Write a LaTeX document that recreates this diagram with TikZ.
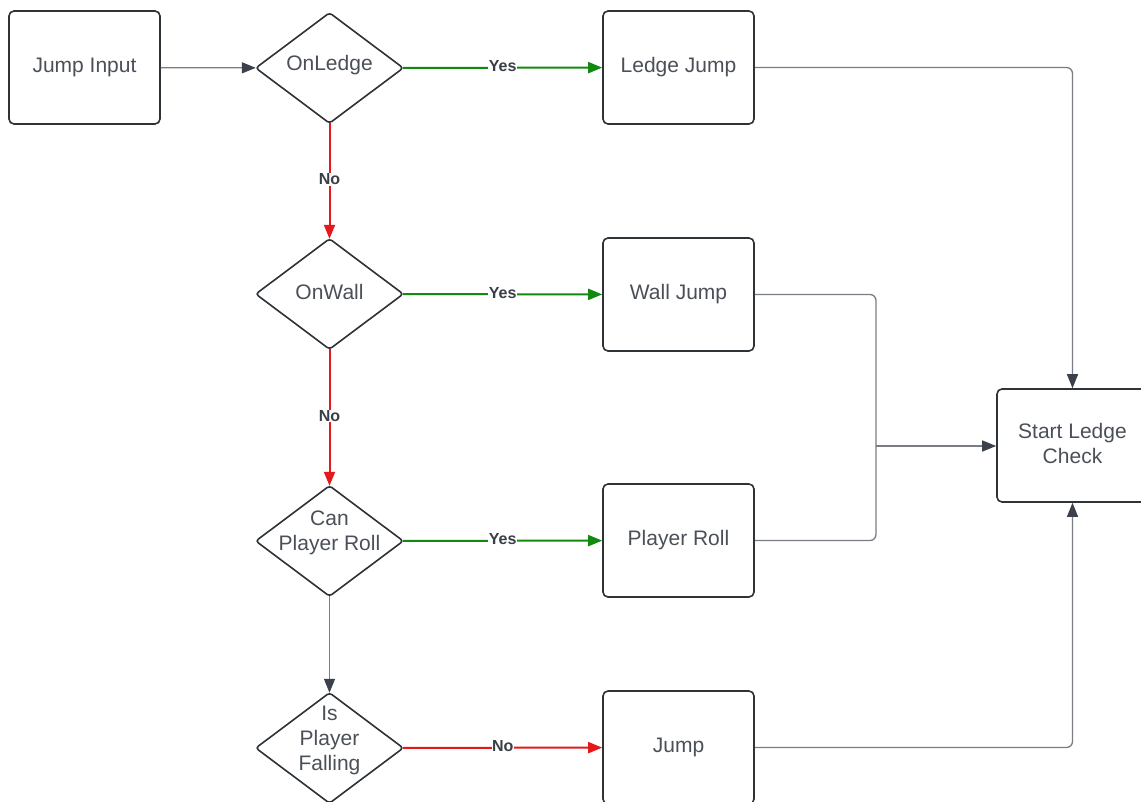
\documentclass[tikz,border=0pt]{standalone}
\usepackage{fontspec}
\setmainfont{Liberation Sans}
\usetikzlibrary{arrows.meta}
\definecolor{edgeline}{HTML}{7A7E84}
\definecolor{tipcol}{HTML}{3A414A}
\definecolor{boxline}{HTML}{2E3338}
\definecolor{txt}{HTML}{4B5058}
\definecolor{yescol}{HTML}{12890F}
\definecolor{nocol}{HTML}{E5191B}
\definecolor{lbl}{HTML}{3A3F45}
\tikzset{
  procbox/.style={draw=boxline, line width=1.6pt, rounded corners=5pt, minimum width=151pt, minimum height=113pt, inner sep=0pt, text=txt, font=\fontsize{21}{25}\selectfont, align=center},
  % decision area: an exact-size frame, the diamond itself is drawn through its anchors
  decision/.style={minimum width=147pt, minimum height=110pt, inner sep=0pt},
  decisiontext/.style={text=txt, font=\fontsize{21}{25}\selectfont, align=center, inner sep=0pt},
  boxtext/.style={decisiontext},
  diamondline/.style={draw=boxline, line width=1.6pt, rounded corners=3pt},
  tip/.style={-{Triangle[length=14pt,width=11pt]}},
  flow/.style={draw=edgeline, line width=1.3pt, -{Triangle[length=14pt,width=11pt,fill=tipcol,color=tipcol]}},
  yesflow/.style={draw=yescol, line width=2pt, tip},
  noflow/.style={draw=nocol, line width=2pt, tip},
  edgelabel/.style={fill=white, inner sep=0.5pt, yshift=1.5pt, text=lbl, font=\bfseries\fontsize{16}{18}\selectfont},
}
\begin{document}
\begin{tikzpicture}[x=1pt, y=-1pt]
  \useasboundingbox (0,0) rectangle (1141,801);
  \fill[white] (0,0) rectangle (1141,801);

  % process steps
  \node[procbox] (input)  at (84.5,67.5)  {Jump Input};
  \node[procbox] (ledgej) at (678.5,67.5) {Ledge Jump};
  \node[procbox] (wallj)  at (678.5,294.5) {Wall Jump};
  \node[procbox] (roll)   at (678.5,540.5) {Player Roll};
  \node[procbox] (jump)   at (678.5,747.5) {Jump};
  \node[procbox] (check)  at (1072.5,445.5) {};
  \node[boxtext] (check-t) at (1072.5,443) {Start Ledge\\Check};

  % decisions
  \node[decision] (onledge) at (329.5,68)  {};
  \node[decision] (onwall)  at (329.5,294) {};
  \node[decision] (canroll) at (329.5,541) {};
  \node[decision] (falling) at (329.5,748) {};
  \foreach \d in {onledge,onwall,canroll,falling}
    \draw[diamondline] (\d.north) -- (\d.east) -- (\d.south) -- (\d.west) -- cycle;
  \node[decisiontext] (onledge-t) at (329.5,65)  {OnLedge};
  \node[decisiontext] (onwall-t)  at (329.5,292) {OnWall};
  \node[decisiontext] (canroll-t) at (329.5,532.5) {Can\\Player Roll};
  \node[decisiontext] (falling-t) at (329.5,740.5) {Is\\Player\\Falling};

  % junction of the wall-jump and roll branches
  \coordinate (merge) at (876,446);

  % main flow
  \draw[flow] (input) -- (onledge);
  \draw[yesflow] (onledge) -- node[edgelabel] {Yes} (ledgej);
  \draw[noflow] (onledge) -- node[edgelabel] {No} (onwall);
  \draw[yesflow] (onwall) -- node[edgelabel] {Yes} (wallj);
  \draw[noflow] (onwall) -- node[edgelabel] {No} (canroll);
  \draw[yesflow] (canroll) -- node[edgelabel] {Yes} (roll);
  \draw[flow] (canroll) -- (falling);
  \draw[noflow] (falling) -- node[edgelabel] {No} (jump);

  % branches joining into the ledge check
  \draw[flow, rounded corners=6pt] (ledgej.east) -| (check.north);
  \draw[draw=edgeline, line width=1.3pt, rounded corners=6pt] (wallj.east) -| (merge);
  \draw[draw=edgeline, line width=1.3pt, rounded corners=6pt] (roll.east) -| (merge);
  \draw[flow] (merge) -- (check.west |- merge);
  \draw[flow, rounded corners=6pt] (jump.east) -| (check.south);
\end{tikzpicture}
\end{document}
